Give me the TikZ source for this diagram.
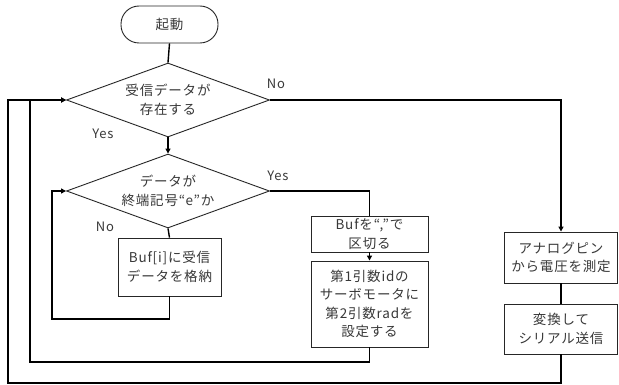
\documentclass[tikz,border=0pt]{standalone}
\usepackage{fontspec}
\setmainfont[LetterSpace=6]{Noto Sans CJK JP}
\usetikzlibrary{shapes.geometric,arrows.meta}
\begin{document}
\begin{tikzpicture}[x=1pt,y=-1pt,
  every node/.style={font=\fontsize{13.5}{18.5}\selectfont, text=black!78},
  shapeline/.style={draw=black!85, line width=0.9pt, fill=white},
  term/.style={shapeline, rounded corners=18pt, minimum width=97pt, minimum height=37pt, inner sep=0pt},
  dec/.style={shapeline, diamond, aspect=2.74, minimum width=203pt, minimum height=74pt, inner sep=0pt, align=center},
  proc/.style={shapeline, rectangle, inner sep=0pt, align=center},
  conn/.style={draw=black, line width=1.4pt},
  arr/.style={conn, -{Triangle[length=5pt,width=5pt]}},
  lbl/.style={font=\fontsize{13}{15}\selectfont}
]
\useasboundingbox (0,0) rectangle (619,385);
\node[term] (start) at (169.5,24.5) {起動};
\node[dec] (d1) at (168,100) {受信データが\\存在する};
\node[dec] (d2) at (168,191) {データが\\終端記号“e”か};
\node[proc, minimum width=103pt, minimum height=58pt] (buf) at (169.5,267) {Buf[i]に受信\\データを格納};
\node[proc, minimum width=117pt, minimum height=36pt] (split) at (369.5,234) {Bufを“,”で\\区切る};
\node[proc, minimum width=117pt, minimum height=86pt] (servo) at (369.5,304) {第1引数idの\\サーボモータに\\第2引数radを\\設定する};
\node[proc, minimum width=113pt, minimum height=51pt] (analog) at (561,257.5) {アナログピン\\から電圧を測定};
\node[proc, minimum width=113pt, minimum height=50pt] (conv) at (561,329) {変換して\\シリアル送信};

\node[lbl] (no1) at (276,84) {No};
\node[lbl] (yes1) at (103,134) {Yes};
\node[lbl] (yes2) at (278,176) {Yes};
\node[lbl] (no2) at (105,227) {No};

\coordinate (c1) at (169.5,319);
\coordinate (c2) at (52,319);
\coordinate (c3) at (369.5,362);
\coordinate (c4) at (30,362);
\coordinate (c5) at (561,383);
\coordinate (c6) at (8,383);

\draw[conn] (start.south) -- (d1.north);
\draw[arr] (d1.south) -- (d2.north);
\draw[conn] (d2.south) -- (buf.north);
\draw[arr] (buf.south) -- (c1) -- (c2) |- (d2.west);
\draw[conn] (d2.east) -| (split.north);
\draw[arr] (split.south) -- (servo.north);
\draw[arr] (servo.south) -- (c3) -- (c4) |- (d1.west);
\draw[arr] (d1.east) -| (analog.north);
\draw[conn] (analog.south) -- (conv.north);
\draw[arr] (conv.south) -- (c5) -- (c6) |- (d1.west);
\end{tikzpicture}
\end{document}
